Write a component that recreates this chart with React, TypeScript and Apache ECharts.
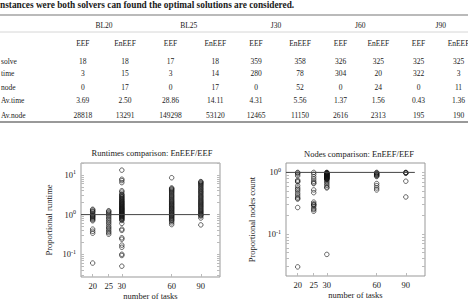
import React, { useEffect, useRef } from "react";
import * as echarts from "echarts";

// ---------- table data ----------
const caption = "nstances were both solvers can found the optimal solutions are considered.";
const benchmarks = ["BL20", "BL25", "J30", "J60", "J90"];
const solvers = ["EEF", "EnEEF"];
const rowLabels = ["solve", "time", "node", "Av.time", "Av.node"];
const solveRow = ["18", "18", "17", "18", "359", "358", "326", "325", "325", "325"];
const timeRow = ["3", "15", "3", "14", "280", "78", "304", "20", "322", "3"];
const nodeRow = ["0", "17", "0", "17", "0", "52", "0", "24", "0", "11"];
const avTimeRow = ["3.69", "2.50", "28.86", "14.11", "4.31", "5.56", "1.37", "1.56", "0.43", "1.36"];
const avNodeRow = ["28818", "13291", "149298", "53120", "12465", "11150", "2616", "2313", "195", "190"];

// ---------- plot data ----------
const taskCounts = [20, 25, 30, 60, 90];
const runtimeTitle = "Runtimes comparison: EnEEF/EEF";
const nodesTitle = "Nodes comparison: EnEEF/EEF";
const xName = "number of tasks";
const runtimeYName = "Proportional runtime";
const nodesYName = "Proportional nodes count";
const runtimeYLabels = [0.1, 1, 10];
const nodesYLabels = [0.1, 1];

const runtimeBL20 = [1.36, 1.3, 1.22, 1.18, 1.1, 1.02, 0.97, 0.93, 0.9, 0.86, 0.82, 0.78, 0.74, 0.7, 0.43, 0.38, 0.34, 0.06];
const runtimeBL25 = [1.25, 1.2, 1.12, 1.05, 0.98, 0.9, 0.82, 0.75, 0.68, 0.62, 0.56, 0.5, 0.46, 0.42, 0.38, 0.35, 0.32];
const runtimeJ30 = [13.2, 7.8, 7.2, 6.4, 4.0, 3.7, 3.3, 3.15, 3.0, 2.85, 2.75, 2.6, 2.5, 2.4, 2.3, 2.2, 2.12, 2.05, 1.98, 1.9, 1.84, 1.78, 1.72, 1.66, 1.6, 1.55, 1.5, 1.45, 1.41, 1.37, 1.33, 1.29, 1.25, 1.21, 1.18, 1.14, 1.1, 1.07, 1.04, 1.01, 0.98, 0.95, 0.92, 0.89, 0.86, 0.83, 0.8, 0.77, 0.74, 0.71, 0.6, 0.43, 0.4, 0.26, 0.24, 0.17, 0.15, 0.1, 0.093, 0.05];
const runtimeJ60 = [8.5, 4.7, 4.5, 4.3, 4.1, 3.9, 3.7, 3.5, 3.3, 3.1, 2.95, 2.8, 2.65, 2.5, 2.38, 2.25, 2.15, 2.05, 1.95, 1.86, 1.78, 1.7, 1.62, 1.55, 1.48, 1.42, 1.36, 1.3, 1.24, 1.18, 1.13, 1.08, 1.03, 0.99, 0.95, 0.91, 0.87, 0.83, 0.79, 0.75, 0.72, 0.68, 0.62, 0.56];
const runtimeJ90 = [6.8, 6.6, 6.3, 6.0, 5.7, 5.4, 5.1, 4.8, 4.5, 4.3, 4.0, 3.8, 3.6, 3.4, 3.2, 3.0, 2.85, 2.7, 2.55, 2.4, 2.28, 2.16, 2.05, 1.95, 1.85, 1.75, 1.66, 1.58, 1.5, 1.42, 1.35, 1.28, 1.22, 1.16, 1.1, 1.05, 1.0, 0.96, 0.92, 0.82, 0.55];

const nodesBL20 = [1.0, 0.98, 0.94, 0.88, 0.75, 0.72, 0.7, 0.61, 0.56, 0.53, 0.5, 0.46, 0.43, 0.4, 0.38, 0.37, 0.27, 0.0295];
const nodesBL25 = [1.0, 0.93, 0.85, 0.78, 0.72, 0.68, 0.66, 0.52, 0.47, 0.33, 0.31, 0.3, 0.295, 0.28, 0.26, 0.25, 0.235];
const nodesJ30 = [1.0, 0.99, 0.98, 0.97, 0.96, 0.95, 0.94, 0.93, 0.92, 0.91, 0.9, 0.89, 0.88, 0.87, 0.86, 0.85, 0.84, 0.83, 0.82, 0.81, 0.8, 0.79, 0.78, 0.77, 0.74, 0.7, 0.66, 0.62, 0.58, 0.56, 0.047];
const nodesJ60 = [1.0, 0.98, 0.96, 0.94, 0.92, 0.9, 0.88, 0.86, 0.66, 0.61, 0.56, 0.52];
const nodesJ90 = [1.0, 0.99, 0.98, 0.97, 0.72, 0.4];

const runtimeSeries = [runtimeBL20, runtimeBL25, runtimeJ30, runtimeJ60, runtimeJ90];
const nodesSeries = [nodesBL20, nodesBL25, nodesJ30, nodesJ60, nodesJ90];

const FONT = '"Liberation Serif", "Times New Roman", serif';
const TXT = "#1a1a1a";

function txt(text: string, x: number, y: number, size: number, align = "center", bold = false) {
  return {
    type: "text",
    x,
    y,
    silent: true,
    style: {
      text,
      fontFamily: FONT,
      fontSize: size,
      fontWeight: bold ? "bold" : "normal",
      fill: TXT,
      align,
      verticalAlign: "middle",
      textAlign: align,
      textVerticalAlign: "middle",
    },
  };
}

function logTicks(min: number, max: number) {
  const out: number[] = [];
  for (let e = -3; e <= 2; e++) {
    for (let m = 1; m <= 9; m++) {
      const v = Number((m * Math.pow(10, e)).toPrecision(3));
      if (v >= min && v <= max) out.push(v);
    }
  }
  return out;
}

export default function App() {
  const ref = useRef<HTMLDivElement>(null);
  useEffect(() => {
    const chart = echarts.init(ref.current!, null, { renderer: "svg" });

    // table graphic
    const colX = [82.8, 125, 170.5, 215.3, 256, 300, 340.5, 378.3, 418.5, 458.5];
    const groupX = [104, 188.8, 276, 360.2, 440.8];
    const rowY = [61, 73.5, 87, 100.8, 115];
    const tableRows = [solveRow, timeRow, nodeRow, avTimeRow, avNodeRow];
    const TS = 7.5;
    const graphics: any[] = [];
    graphics.push(txt(caption, 0, 5, 9.3, "left", true));
    graphics.push({ type: "line", silent: true, shape: { x1: 0, y1: 15, x2: 468, y2: 15 }, style: { stroke: "#777", lineWidth: 1.2 } });
    graphics.push({ type: "line", silent: true, shape: { x1: 0, y1: 32, x2: 468, y2: 32 }, style: { stroke: "#ccc", lineWidth: 0.8 } });
    graphics.push({ type: "line", silent: true, shape: { x1: 0, y1: 122, x2: 468, y2: 122 }, style: { stroke: "#777", lineWidth: 1.5 } });
    benchmarks.forEach((b, i) => graphics.push(txt(b, groupX[i], 25, TS)));
    colX.forEach((x, i) => graphics.push(txt(solvers[i % 2], x, 43.3, TS)));
    rowLabels.forEach((r, ri) => {
      graphics.push(txt(r, 1, rowY[ri], TS, "left"));
      tableRows[ri].forEach((v, ci) => graphics.push(txt(v, colX[ci], rowY[ri], TS)));
    });
    graphics.push(txt(runtimeTitle, 152, 153, 8.5));
    graphics.push(txt(nodesTitle, 359, 153.5, 8.5));

    const PS = 8.5;
    const supFormatter = (v: number) => {
      const e = Math.round(Math.log10(v));
      return `{b|10}{s|${e}}`;
    };
    const rich = {
      b: { fontFamily: FONT, fontSize: PS, color: TXT },
      s: { fontFamily: FONT, fontSize: 6, color: TXT, padding: [0, 0, 5, 0] },
    };

    const plots = [
      { left: 81, top: 163, width: 139, height: 114, ymin: 0.0267, ymax: 20, yName: runtimeYName, yGap: 28, labels: runtimeYLabels, data: runtimeSeries },
      { left: 286, top: 163, width: 139, height: 113, ymin: 0.021, ymax: 1.42, yName: nodesYName, yGap: 30, labels: nodesYLabels, data: nodesSeries },
    ];

    const grid: any[] = [];
    const xAxis: any[] = [];
    const yAxis: any[] = [];
    const series: any[] = [];
    plots.forEach((p, gi) => {
      grid.push({
        left: p.left, top: p.top, width: p.width, height: p.height,
        outerBoundsMode: "none",
        show: true, borderColor: "#999", borderWidth: 1, backgroundColor: "transparent",
      });
      xAxis.push({
        type: "log", logBase: 10, gridIndex: gi, min: 17, max: 117.5, position: "bottom",
        name: xName, nameLocation: "middle", nameGap: 14,
        nameTextStyle: { fontFamily: FONT, fontSize: PS, color: TXT },
        axisLine: { show: false, onZero: false },
        axisTick: { show: true, inside: true, length: 3, customValues: taskCounts, lineStyle: { color: "#bbb" } },
        axisLabel: { customValues: taskCounts, fontFamily: FONT, fontSize: PS, color: TXT, margin: 4 },
        splitLine: { show: false },
      });
      const ticks = logTicks(p.ymin, p.ymax);
      yAxis.push({
        type: "log", logBase: 10, gridIndex: gi, min: p.ymin, max: p.ymax, position: "left",
        name: p.yName, nameLocation: "middle", nameGap: p.yGap, nameRotate: 90,
        nameTextStyle: { fontFamily: FONT, fontSize: PS, color: TXT },
        axisLine: { show: false, onZero: false },
        axisTick: { show: true, inside: true, length: 3, customValues: ticks, lineStyle: { color: "#bbb" } },
        axisLabel: { customValues: p.labels, formatter: supFormatter, rich, margin: 5 },
        splitLine: { show: false },
      });
      yAxis.push({
        type: "log", logBase: 10, gridIndex: gi, min: p.ymin, max: p.ymax, position: "right",
        axisLine: { show: false, onZero: false },
        axisTick: { show: true, inside: true, length: 3, customValues: ticks, lineStyle: { color: "#bbb" } },
        axisLabel: { show: false },
        splitLine: { show: false },
      });
      series.push({
        type: "line", xAxisIndex: gi, yAxisIndex: gi * 2, silent: true, symbol: "none",
        lineStyle: { color: "#444", width: 1 },
        data: [[17, 1], [102, 1]],
      });
      p.data.forEach((vals, si) => {
        series.push({
          type: "scatter", xAxisIndex: gi, yAxisIndex: gi * 2, symbol: "circle", symbolSize: 4.5,
          itemStyle: { color: "rgba(0,0,0,0)", borderColor: "#111", borderWidth: 0.8 },
          data: vals.map((v) => [taskCounts[si], v]),
        });
      });
    });

    chart.setOption({
      animation: false,
      backgroundColor: "#fff",
      textStyle: { fontFamily: FONT },
      grid, xAxis, yAxis, series,
      graphic: graphics,
    });
    return () => chart.dispose();
  }, []);
  return <div ref={ref} style={{ position: "absolute", left: 0, top: 0, width: 468, height: 300 }} />;
}
